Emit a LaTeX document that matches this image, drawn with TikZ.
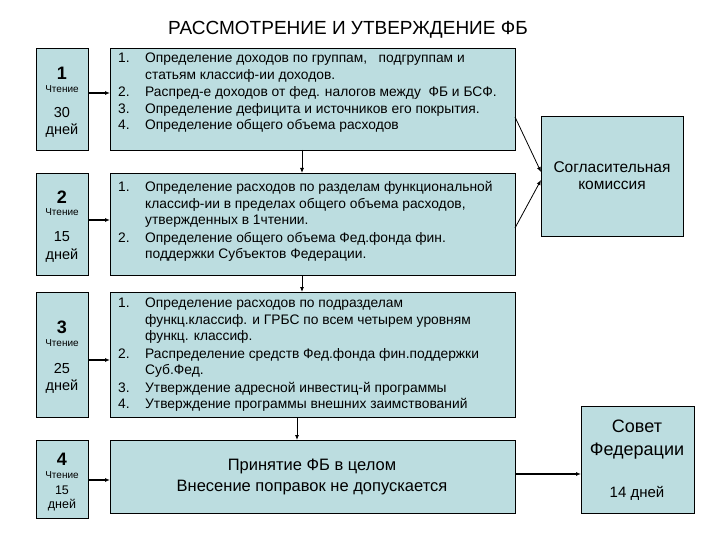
\documentclass[tikz,border=0pt]{standalone}
\usepackage{fontspec}
\setmainfont{Liberation Sans}
\usetikzlibrary{arrows.meta}
\definecolor{bx}{HTML}{BCDDE0}
\newcommand{\lst}[1]{\renewcommand{\arraystretch}{1.0}\begin{tabular}{@{}p{27pt}@{}l@{}}#1\end{tabular}}
\begin{document}
\begin{tikzpicture}[x=1pt,y=-1pt,
  box/.style={draw=black,fill=bx,line width=0.8pt},
  arr/.style={-{Latex[length=5pt,width=4pt]},line width=1.2pt},
  arrt/.style={-{Latex[length=5pt,width=4pt]},line width=0.8pt},
  num/.style={inner sep=0,font=\fontsize{18}{20}\selectfont\bfseries},
  cht/.style={inner sep=0,font=\fontsize{10}{12}\selectfont},
  dn/.style={inner sep=0,font=\fontsize{14.5}{17}\selectfont},
  dns/.style={inner sep=0,font=\fontsize{12.5}{14}\selectfont},
  lt/.style={anchor=north west,inner sep=0pt,font=\fontsize{13.8}{16.5}\selectfont}]
\useasboundingbox[fill=white] (0,0) rectangle (720,540);
\node (t) at (348,30) {\fontsize{19}{22}\selectfont РАССМОТРЕНИЕ И УТВЕРЖДЕНИЕ ФБ};
% left boxes
\path[box] (36,48) rectangle (88,150);
\node[num] (n1) at (62,73) {1}; \node[cht] (c1) at (62,89) {Чтение};
\node[dn] (x1) at (62,113) {30}; \node[dn] (y1) at (62,131) {дней};
\path[box] (36,173) rectangle (88,275);
\node[num] (n2) at (62,197) {2}; \node[cht] (c2) at (62,212) {Чтение};
\node[dn] (x2) at (62,237) {15}; \node[dn] (y2) at (62,256) {дней};
\path[box] (36,292) rectangle (88,417);
\node[num] (n3) at (62,327) {3}; \node[cht] (c3) at (62,343) {Чтение};
\node[dn] (x3) at (62,369) {25}; \node[dn] (y3) at (62,387) {дней};
\path[box] (36,440) rectangle (88,518);
\node[num] (n4) at (62,459) {4}; \node[cht] (c4) at (62,475) {Чтение};
\node[dns] (x4) at (62,490) {15}; \node[dns] (y4) at (62,505) {дней};
% middle boxes
\path[box] (110,48) rectangle (515,150);
\path[box] (110,173) rectangle (515,275);
\path[box] (110,292) rectangle (515,417);
\path[box] (110,440) rectangle (515,513);
\node[lt] (m1) at (118,51) {\lst{1. & Определение доходов по группам, \ \ подгруппам и\\ & статьям классиф-ии доходов.\\[1pt] 2. & Распред-е доходов от фед. налогов между \ ФБ и БСФ.\\ 3. & Определение дефицита и источников его покрытия.\\ 4. & Определение общего объема расходов}};
\node[lt] (m2) at (118,180) {\lst{1. & Определение расходов по разделам функциональной\\ & классиф-ии в пределах общего объема расходов,\\ & утвержденных в 1чтении.\\[1pt] 2. & Определение общего объема Фед.фонда фин.\\ & поддержки Субъектов Федерации.}};
\node[lt] (m3) at (118,296) {\lst{1. & Определение расходов по подразделам\\ & функц.классиф. и ГРБС по всем четырем уровням\\ & функц. классиф.\\[1pt] 2. & Распределение средств Фед.фонда фин.поддержки\\ & Суб.Фед.\\[1pt] 3. & Утверждение адресной инвестиц-й программы\\ 4. & Утверждение программы внешних заимствований}};
\node[align=center,font=\fontsize{16.5}{21}\selectfont] (m4) at (312,477) {Принятие ФБ в целом\\Внесение поправок не допускается};
% right boxes
\path[box] (541,116) rectangle (683,236);
\node[align=center,font=\fontsize{15.5}{17}\selectfont] (k) at (612,176) {Согласительная\\комиссия};
\path[box] (581,406) rectangle (694,513);
\node[align=center,font=\fontsize{18}{23}\selectfont] (s) at (637,440) {Совет\\Федерации};
\node[font=\fontsize{15}{17}\selectfont] (s2) at (637,493) {14 дней};
% connectors
\coordinate (a1) at (88,93); \coordinate (b1) at (110,93);
\coordinate (a2) at (88,220); \coordinate (b2) at (110,220);
\coordinate (a3) at (88,360); \coordinate (b3) at (110,360);
\coordinate (a4) at (88,480); \coordinate (b4) at (110,480);
\draw[arr] (a1) -- (b1); \draw[arr] (a2) -- (b2); \draw[arr] (a3) -- (b3); \draw[arr] (a4) -- (b4);
\coordinate (d1) at (302,150); \coordinate (e1) at (302,173);
\coordinate (d2) at (302,275); \coordinate (e2) at (302,292);
\coordinate (d3) at (297,417); \coordinate (e3) at (297,440);
\draw[arrt] (d1) -- (e1); \draw[arrt] (d2) -- (e2); \draw[arrt] (d3) -- (e3);
\coordinate (f1) at (515,117); \coordinate (f2) at (515,228);
\coordinate (k1) at (541,172); \coordinate (k2) at (541,180);
\draw[arrt] (f1) -- (k1); \draw[arrt] (f2) -- (k2);
\coordinate (g) at (515,474); \coordinate (h) at (581,474);
\draw[arr] (g) -- (h);
\end{tikzpicture}
\end{document}
